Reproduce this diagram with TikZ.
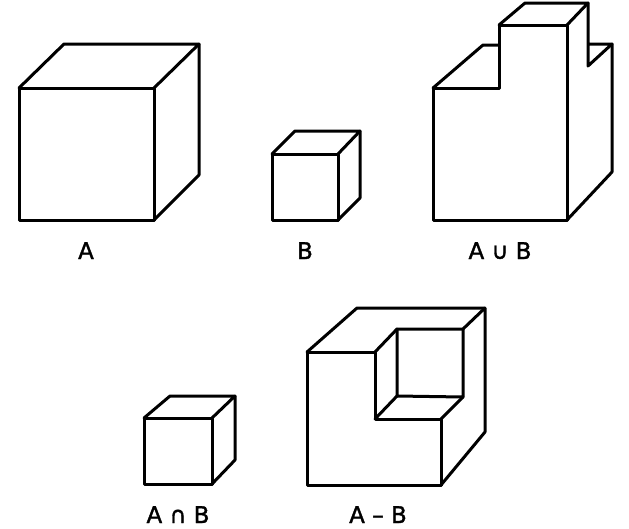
\documentclass[tikz,border=0pt]{standalone}
\usepackage{fontspec}
\setmainfont[FakeBold=1.5]{DejaVu Sans}
\tikzset{
  edge/.style={line width=3pt,line join=round,line cap=round,black},
  lab/.style={inner sep=0pt,anchor=base,font=\fontsize{23}{23}\selectfont,text=black}
}
\begin{document}
\begin{tikzpicture}[x=1pt,y=-1pt]
\useasboundingbox (0,0) rectangle (629,528);
% A
\draw[edge] (19,88) rectangle (154,220);
\draw[edge] (19,88) -- (64,44) -- (199,44) -- (154,88);
\draw[edge] (199,44) -- (199,175) -- (154,220);
% B
\draw[edge] (272,154) rectangle (338,220);
\draw[edge] (272,154) -- (295,131) -- (360,131) -- (338,154);
\draw[edge] (360,131) -- (360,198) -- (338,220);
% A union B
\draw[edge] (433,88) -- (499,88) -- (499,25) -- (567,25) -- (567,220) -- (433,220) -- cycle;
\draw[edge] (433,88) -- (483,45) -- (499,45);
\draw[edge] (499,25) -- (525,3) -- (588,3) -- (567,25);
\draw[edge] (588,3) -- (588,66) -- (612,44) -- (588,44);
\draw[edge] (612,44) -- (612,172) -- (567,220);
% A intersect B
\draw[edge] (144,418) rectangle (212,484);
\draw[edge] (144,418) -- (170,396) -- (235,396) -- (212,418);
\draw[edge] (235,396) -- (235,460) -- (212,484);
% A minus B
\draw[edge] (307,352) -- (375,352) -- (375,419) -- (441,419) -- (441,485) -- (307,485) -- cycle;
\draw[edge] (307,352) -- (357,308) -- (485,308) -- (485,432) -- (441,485);
\draw[edge] (375,352) -- (397,329) -- (463,329) -- (485,308);
\draw[edge] (397,329) -- (397,396) -- (463,397) -- (463,329);
\draw[edge] (397,396) -- (375,419);
\draw[edge] (463,397) -- (441,419);
% labels
\node[lab] (la) at (86,259) {A};
\node[lab] (lb) at (305,259) {B};
\node[lab] (lu) at (500,259) {A ∪ B};
\node[lab] (li) at (178,523) {A ∩ B};
\node[lab] (lm) at (378,523) {A – B};
\end{tikzpicture}
\end{document}
